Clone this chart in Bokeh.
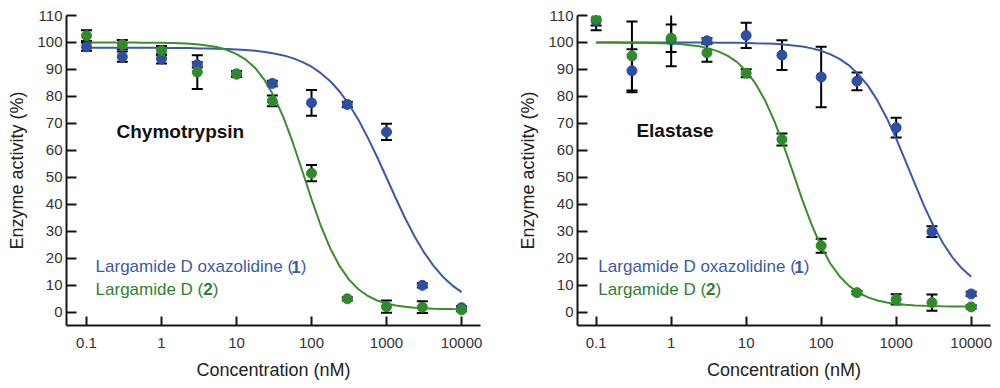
from bokeh.plotting import figure
from bokeh.models import (Range1d, FixedTicker, CustomJSTickFormatter, Whisker, TeeHead,
                          ColumnDataSource, Label)
from bokeh.layouts import row
from bokeh.embed import file_html
from bokeh.resources import INLINE

# ---------------- data ----------------
conc = [0.1, 0.3, 1, 3, 10, 30, 100, 300, 1000, 3000, 10000]

# Chymotrypsin panel
chy_oxa = [98.4, 94.7, 93.9, 91.7, 88.3, 84.8, 77.6, 77.0, 66.8, 9.9, 1.6]
chy_oxa_err = [1.5, 1.9, 1.7, 1.0, 1.0, 1.0, 4.8, 1.0, 3.0, 0.8, 0.5]
chy_lar = [102.5, 99.2, 97.0, 89.0, 88.3, 78.3, 51.5, 4.9, 2.0, 1.8, 0.8]
chy_lar_err = [2.0, 1.7, 1.7, 6.3, 1.0, 2.0, 3.0, 0.6, 2.3, 2.2, 0.5]

# Elastase panel
ela_oxa = [108.0, 89.5, 101.0, 100.6, 102.6, 95.3, 87.2, 85.6, 68.4, 29.8, 6.7]
ela_oxa_err = [3.5, 8.0, 9.8, 1.0, 4.7, 5.5, 11.2, 3.3, 3.7, 2.0, 0.8]
ela_lar = [108.8, 95.0, 101.6, 96.2, 88.6, 64.0, 24.6, 7.2, 4.7, 3.5, 1.9]
ela_lar_err = [2.5, 12.8, 5.1, 3.4, 1.5, 2.2, 2.6, 0.6, 1.9, 3.0, 0.6]

# fitted dose-response curves (eighth-decade steps)
curve_conc = [0.1, 0.133, 0.178, 0.237, 0.316, 0.422, 0.562, 0.750,
              1, 1.33, 1.78, 2.37, 3.16, 4.22, 5.62, 7.50,
              10, 13.3, 17.8, 23.7, 31.6, 42.2, 56.2, 75.0,
              100, 133, 178, 237, 316, 422, 562, 750,
              1000, 1334, 1778, 2371, 3162, 4217, 5623, 7499, 10000]
chy_oxa_fit = [98.0, 98.0, 98.0, 98.0, 98.0, 98.0, 98.0, 98.0,
               97.95, 97.95, 97.9, 97.9, 97.8, 97.8, 97.7, 97.6,
               97.4, 97.2, 96.9, 96.5, 95.9, 95.2, 94.2, 92.8,
               91.0, 88.6, 85.6, 81.8, 77.0, 71.3, 64.7, 57.5,
               49.8, 42.1, 34.7, 28.0, 22.1, 17.2, 13.1, 9.9, 7.4]
chy_lar_fit = [100.0, 100.0, 100.0, 100.0, 100.0, 100.0, 99.9, 99.9,
               99.9, 99.8, 99.7, 99.5, 99.2, 98.8, 98.2, 97.2,
               95.7, 93.6, 90.5, 86.0, 80.0, 72.2, 62.9, 52.5,
               41.9, 32.0, 23.6, 17.0, 12.0, 8.43, 5.96, 4.28,
               3.15, 2.41, 1.92, 1.60, 1.39, 1.25, 1.16, 1.11, 1.07]
ela_oxa_fit = [100.0, 100.0, 100.0, 100.0, 100.0, 100.0, 100.0, 100.0,
               100.0, 100.0, 100.0, 100.0, 100.0, 99.9, 99.9, 99.9,
               99.8, 99.7, 99.6, 99.5, 99.2, 98.9, 98.5, 97.8,
               96.9, 95.6, 93.8, 91.4, 88.1, 83.9, 78.5, 71.9,
               64.3, 56.0, 47.5, 39.2, 31.8, 25.5, 20.3, 16.2, 13.1]
ela_lar_fit = [100.0, 100.0, 100.0, 99.9, 99.9, 99.9, 99.8, 99.7,
               99.6, 99.4, 99.0, 98.6, 97.8, 96.7, 95.1, 92.8,
               89.4, 84.8, 78.6, 70.9, 61.7, 51.7, 41.5, 32.2,
               24.3, 17.9, 13.1, 9.59, 7.14, 5.45, 4.30, 3.53,
               3.01, 2.67, 2.44, 2.29, 2.19, 2.13, 2.08, 2.05, 2.04]

x_ticks = [0.1, 1, 10, 100, 1000, 10000]
x_tick_labels = ["0.1", "1", "10", "100", "1000", "10000"]
y_ticks = [0, 10, 20, 30, 40, 50, 60, 70, 80, 90, 100, 110]

x_label = "Concentration (nM)"
y_label = "Enzyme activity (%)"
series_names = ["Largamide D oxazolidine (", "1", ")", "Largamide D (", "2", ")"]

# ---------------- style ----------------
FONT = "Liberation Sans"
BLUE_PT = "#2d4ea3"
BLUE_LN = "#3e58a9"
BLUE_TX = "#3c5aa6"
GREEN_PT = "#2f8a2a"
GREEN_LN = "#3c8d2e"
GREEN_TX = "#2f7f33"
AX = "#151515"


def make_panel(title, oxa, oxa_err, lar, lar_err, oxa_fit, lar_fit,
               x_start, x_end, width, border_left, border_right, title_x, title_y, leg_x):
    p = figure(width=width, height=388, x_axis_type="log",
               x_range=Range1d(x_start, x_end), y_range=Range1d(-5, 110),
               output_backend="svg", toolbar_location=None,
               min_border_left=border_left, min_border_right=border_right,
               min_border_top=15, min_border_bottom=63)
    p.outline_line_color = None
    p.xgrid.visible = False
    p.ygrid.visible = False
    p.background_fill_color = "white"
    p.border_fill_color = "white"

    for ax in (p.xaxis[0], p.yaxis[0]):
        ax.axis_line_color = AX
        ax.axis_line_width = 2
        ax.major_tick_line_color = AX
        ax.major_tick_line_width = 2
        ax.major_tick_out = 0
        ax.minor_tick_line_color = None
        ax.major_label_text_font = FONT
        ax.major_label_text_font_size = "15px"
        ax.major_label_text_color = "#333333"
        ax.axis_label_text_font = FONT
        ax.axis_label_text_font_style = "normal"
        ax.axis_label_text_font_size = "18px"
        ax.axis_label_text_color = "#222222"

    p.xaxis.ticker = FixedTicker(ticks=x_ticks)
    p.xaxis.formatter = CustomJSTickFormatter(
        args=dict(tvals=x_ticks, tlabels=x_tick_labels),
        code="const i = tvals.findIndex(t => Math.abs(t - tick) <= 1e-9 * Math.max(1, Math.abs(t)));"
             " return i >= 0 ? tlabels[i] : '';")
    p.xaxis.major_tick_in = 9
    p.xaxis.major_label_standoff = 12
    p.xaxis.axis_label = x_label
    p.xaxis.axis_label_standoff = 9

    p.yaxis.ticker = FixedTicker(ticks=y_ticks)
    p.yaxis.major_tick_in = 10
    p.yaxis.major_label_standoff = 4
    p.yaxis.axis_label = y_label
    p.yaxis.axis_label_standoff = 7

    # error bars
    for vals, errs in ((oxa, oxa_err), (lar, lar_err)):
        src = ColumnDataSource(dict(x=conc,
                                    upper=[v + e for v, e in zip(vals, errs)],
                                    lower=[v - e for v, e in zip(vals, errs)]))
        w = Whisker(source=src, base="x", upper="upper", lower="lower",
                    line_color="black", line_width=2,
                    upper_head=TeeHead(size=11, line_width=2, line_color="black"),
                    lower_head=TeeHead(size=11, line_width=2, line_color="black"))
        p.add_layout(w)

    # fitted curves
    p.line(curve_conc, oxa_fit, line_color=BLUE_LN, line_width=2)
    p.line(curve_conc, lar_fit, line_color=GREEN_LN, line_width=2)

    # points
    p.scatter(conc, oxa, marker="circle", size=10, fill_color=BLUE_PT, line_color=BLUE_PT)
    p.scatter(conc, lar, marker="circle", size=10, fill_color=GREEN_PT, line_color=GREEN_PT)

    # title
    p.add_layout(Label(x=title_x, y=title_y, text=title, text_font=FONT,
                       text_font_size="19px", text_font_style="bold",
                       text_color="#111111", text_baseline="middle"))

    # legend text
    def seg(y, off, text, color, bold):
        p.add_layout(Label(x=leg_x, y=y, x_offset=off, text=text, text_font=FONT,
                           text_font_size="17px",
                           text_font_style="bold" if bold else "normal",
                           text_color=color, text_baseline="middle"))

    seg(16.8, 0, series_names[0], BLUE_TX, False)
    seg(16.8, 195.8, series_names[1], BLUE_TX, True)
    seg(16.8, 205.3, series_names[2], BLUE_TX, False)
    seg(8.5, 0, series_names[3], GREEN_TX, False)
    seg(8.5, 107.7, series_names[4], GREEN_TX, True)
    seg(8.5, 117.2, series_names[5], GREEN_TX, False)
    return p


p1 = make_panel("Chymotrypsin", chy_oxa, chy_oxa_err, chy_lar, chy_lar_err,
                chy_oxa_fit, chy_lar_fit, 0.0541, 17900, 508, 66, 28,
                0.251, 66.9, 0.132)
p2 = make_panel("Elastase", ela_oxa, ela_oxa_err, ela_lar, ela_lar_err,
                ela_oxa_fit, ela_lar_fit, 0.0564, 18100, 492, 69, 10,
                0.344, 67.4, 0.107)

layout = row(p1, p2)
open("out.html", "w").write(file_html(layout, INLINE))
